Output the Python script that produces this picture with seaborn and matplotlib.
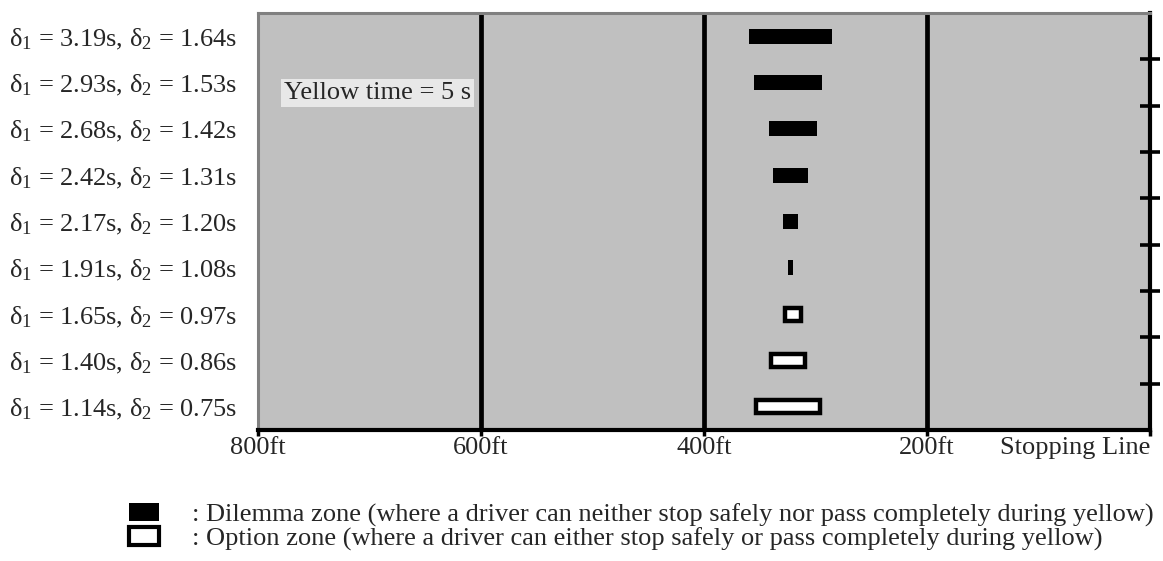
import matplotlib
matplotlib.use('Agg')
import matplotlib.pyplot as plt
import seaborn as sns
from matplotlib.patches import Patch

# data (bottom row first)
delta1 = [1.14, 1.40, 1.65, 1.91, 2.17, 2.42, 2.68, 2.93, 3.19]
delta2 = [0.75, 0.86, 0.97, 1.08, 1.20, 1.31, 1.42, 1.53, 1.64]
zone_far = [353, 340, 327, 325, 329, 338, 342, 355, 360]   # ft from stopping line
zone_near = [296, 309, 313, 320, 316, 307, 299, 294, 285]
zone_type = ['option', 'option', 'option', 'dilemma', 'dilemma',
             'dilemma', 'dilemma', 'dilemma', 'dilemma']
x_ticks = [800, 600, 400, 200, 0]
x_labels = ['800ft', '600ft', '400ft', '200ft', 'Stopping Line']

sns.set_theme(style='white')
plt.rcParams['font.family'] = ['Liberation Serif', 'DejaVu Serif']
plt.rcParams['mathtext.fontset'] = 'custom'
plt.rcParams['mathtext.rm'] = 'Liberation Serif'
plt.rcParams['mathtext.it'] = 'Liberation Serif:italic'

FS = 19

row_labels = [r'$\mathregular{\delta_1}$ = %.2fs, $\mathregular{\delta_2}$ = %.2fs' % (a, b)
              for a, b in zip(delta1, delta2)]

fig = plt.figure(figsize=(11.63, 5.61), dpi=100)
ax = fig.add_axes([258 / 1163, 1 - 430 / 561, 892 / 1163, 417 / 561])
ax.set_facecolor('#C0C0C0')

# vertical grid lines
for g in [600, 400, 200]:
    ax.axvline(g, color='black', lw=3.4, zorder=1)

# zones
for i, (f, n, t) in enumerate(zip(zone_far, zone_near, zone_type)):
    if t == 'dilemma':
        ax.barh(i, f - n, left=n, height=0.33, color='black',
                edgecolor='black', linewidth=0, zorder=3)
    else:
        ax.barh(i, f - n, left=n, height=0.28, color='white',
                edgecolor='black', linewidth=3.2, zorder=3)

ax.set_xlim(800, 0)
ax.set_ylim(-0.5, len(delta1) - 0.5)
ax.set_xticks(x_ticks)
ax.set_xticklabels(x_labels, fontsize=FS)
ax.get_xticklabels()[-1].set_horizontalalignment('right')
ax.set_yticks(range(len(delta1)))
ax.set_yticklabels(row_labels, fontsize=FS)
ax.tick_params(axis='y', which='major', length=0, pad=15)
ax.tick_params(axis='x', which='major', direction='out', length=4, width=2.5,
               color='black', pad=1, bottom=True)
ax.set_yticks([i + 0.5 for i in range(len(delta1) - 1)], minor=True)
ax.tick_params(axis='y', which='minor', right=True, left=False,
               direction='inout', length=14, width=2.6, color='black')

for side in ['left', 'top']:
    ax.spines[side].set_color('#808080')
    ax.spines[side].set_linewidth(2.2)
for side in ['bottom', 'right']:
    ax.spines[side].set_color('black')
    ax.spines[side].set_linewidth(3)
    ax.spines[side].set_visible(True)

ax.text(0.029, 0.809, 'Yellow time = 5 s', transform=ax.transAxes, fontsize=FS,
        va='center', ha='left',
        bbox=dict(facecolor='#E8E8E8', edgecolor='none', pad=2))

handles = [Patch(facecolor='black', edgecolor='black', linewidth=0),
           Patch(facecolor='white', edgecolor='black', linewidth=3)]
labels = [': Dilemma zone (where a driver can neither stop safely nor pass completely during yellow)',
          ': Option zone (where a driver can either stop safely or pass completely during yellow)']
fig.legend(handles, labels, loc='upper left', bbox_to_anchor=(129 / 1163, 1 - 503 / 561),
           frameon=False, fontsize=FS, handlelength=1.15, handleheight=0.7,
           handletextpad=1.25, labelspacing=0.0, borderpad=0, borderaxespad=0)

fig.savefig('out.png', dpi=100)
